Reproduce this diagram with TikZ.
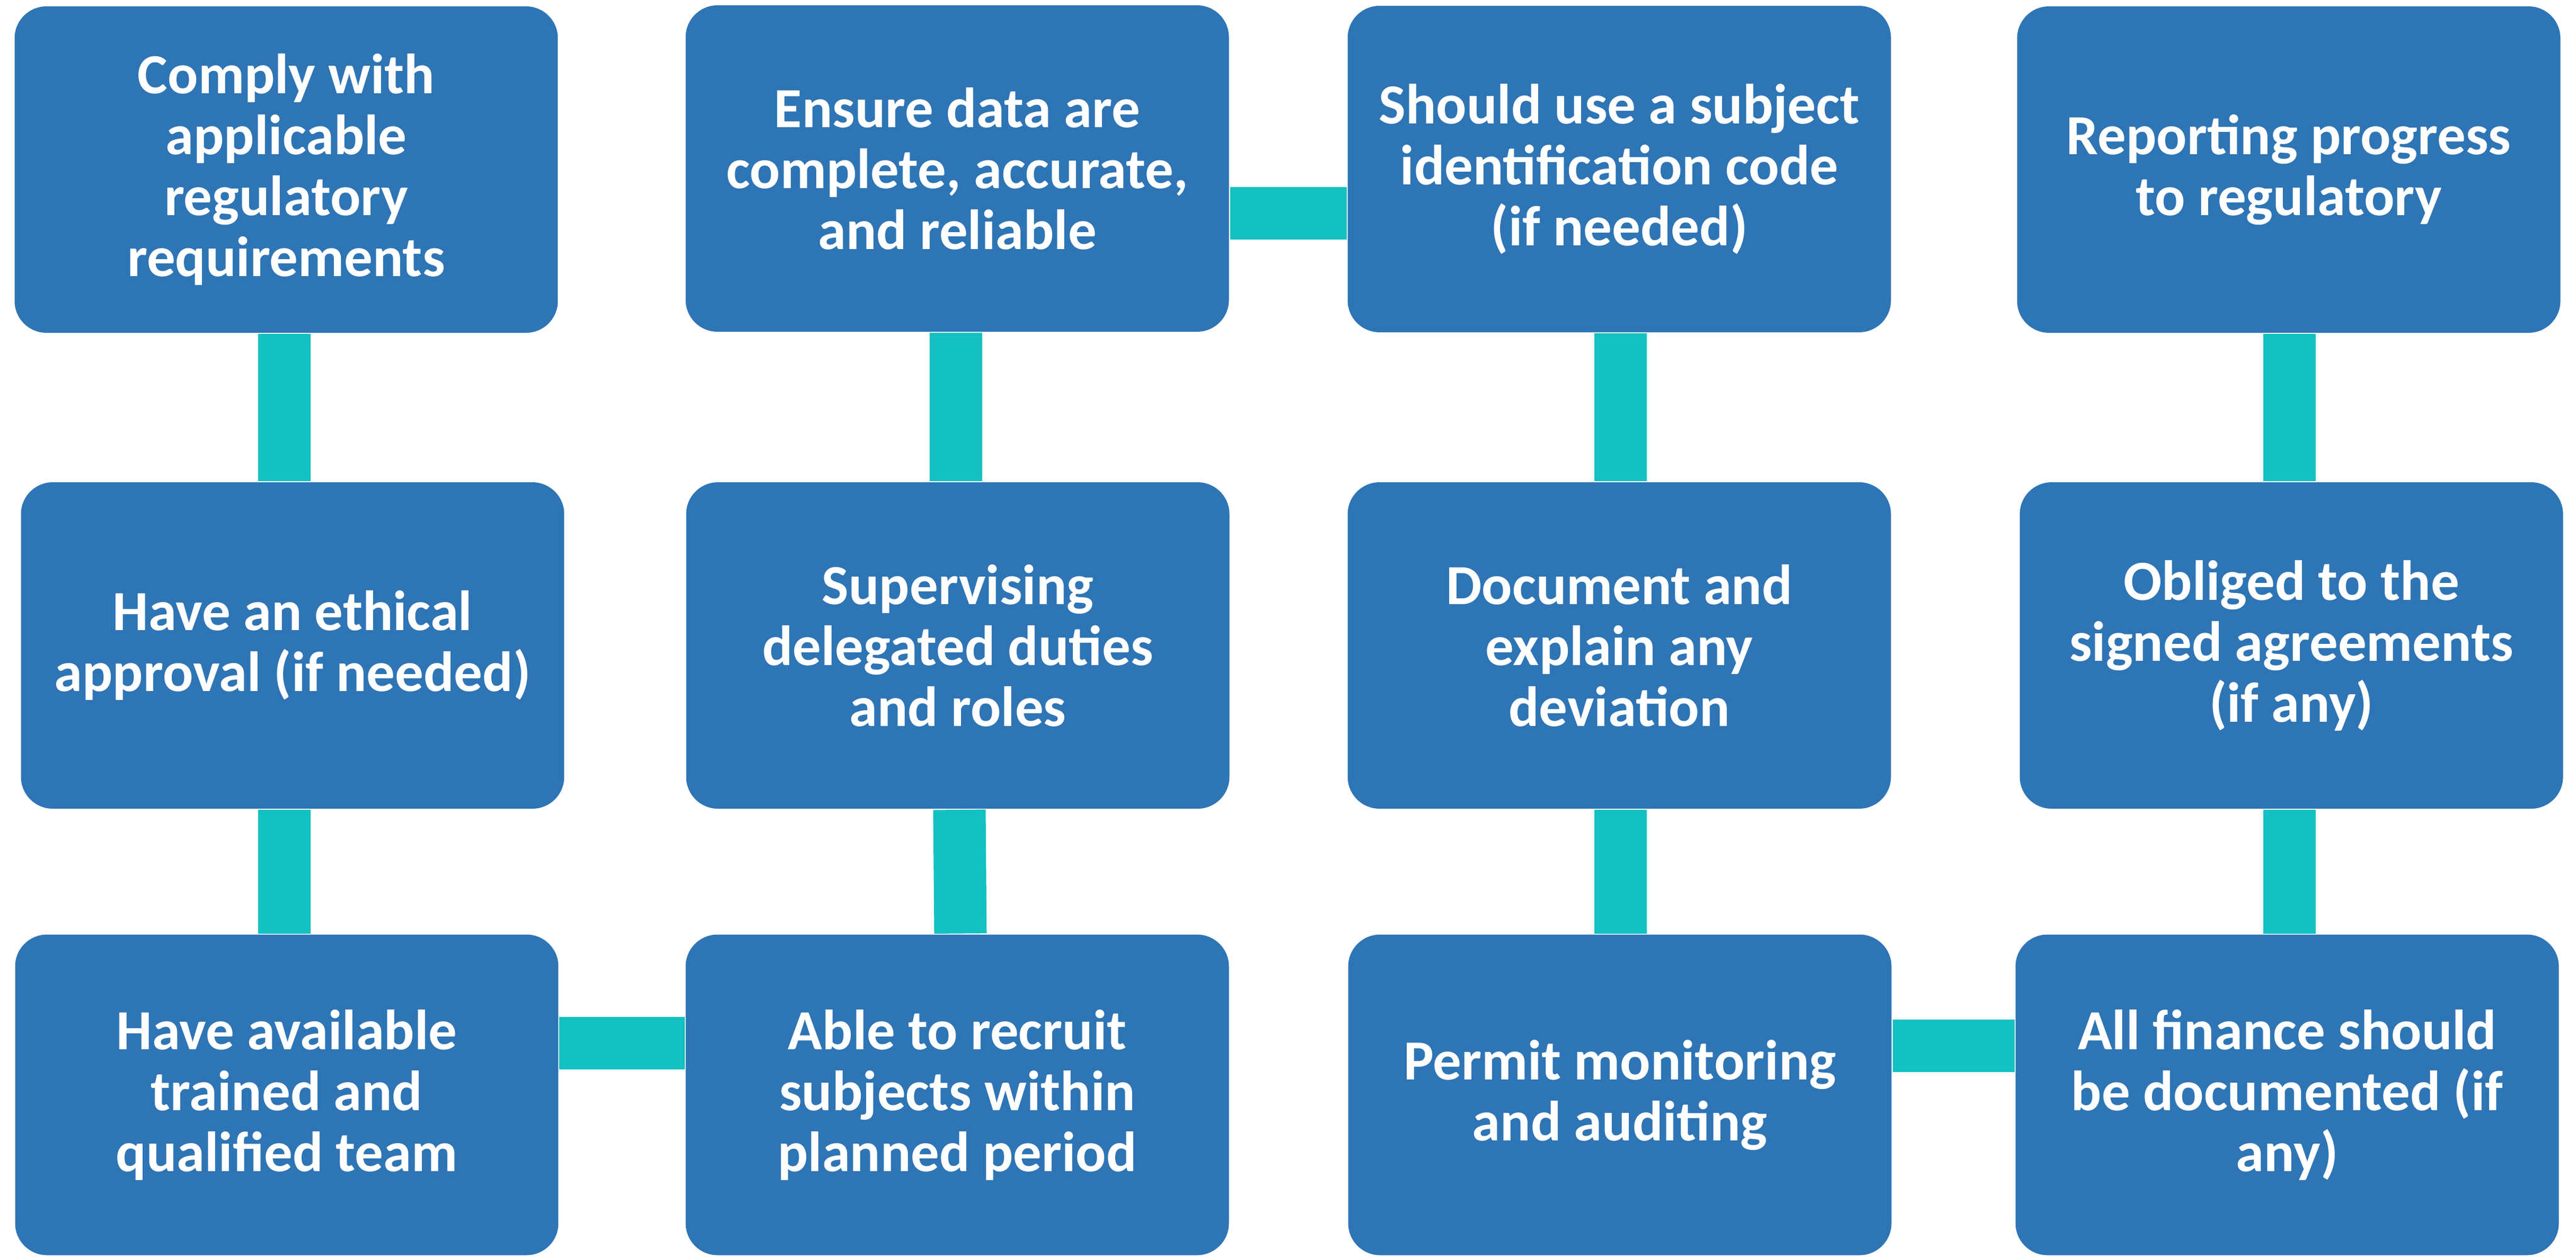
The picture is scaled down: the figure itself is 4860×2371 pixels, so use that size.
\documentclass[tikz,border=0pt]{standalone}
\usepackage{fontspec}
\setmainfont{Carlito}
\usepackage{tikz}
\definecolor{boxblue}{HTML}{2E75B6}
\definecolor{linkteal}{RGB}{19,193,193}
\tikzset{
  duty/.style={rectangle, rounded corners=6pt, fill=boxblue, text=white, align=center,
    font=\bfseries\fontsize{10.7}{11.5}\selectfont, inner sep=0pt,
    minimum width=102.5pt, minimum height=61.6pt},
  lastrow/.style={duty, minimum height=60.5pt},
  link/.style={linkteal, line width=9.9pt}
}
\begin{document}
\begin{tikzpicture}[x=0.1pt, y=-0.1pt]
\useasboundingbox (0,0) rectangle (4860,2371);
\node[duty] (comply) at (540,320) {Comply with\\applicable\\regulatory\\requirements}; % row 1
\node[duty] (data) at (1806,318) {Ensure data are\\complete, accurate,\\and reliable};
\node[duty] (code) at (3055,319) {Should use a subject\\identification code\\(if needed)};
\node[duty] (report) at (4318,320) {Reporting progress\\to regulatory};
\node[duty] (ethics) at (552,1218) {Have an ethical\\approval (if needed)}; % row 2
\node[duty] (supervise) at (1807,1218) {Supervising\\delegated duties\\and roles};
\node[duty] (deviation) at (3055,1218) {Document and\\explain any\\deviation};
\node[duty] (agreement) at (4323,1218) {Obliged to the\\signed agreements\\(if any)};
\node[lastrow] (team) at (541,2066) {Have available\\trained and\\qualified team}; % row 3
\node[lastrow] (recruit) at (1806,2066) {Able to recruit\\subjects within\\planned period};
\node[lastrow] (monitor) at (3056,2066) {Permit monitoring\\and auditing};
\node[lastrow] (finance) at (4315,2066) {All finance should\\be documented (if\\any)};
\draw[link] ([xshift=-0.4pt]comply.south) -- ([xshift=-0.4pt]comply.south |- ethics.north); % comply-ethics
\draw[link] ([xshift=-1.6pt]ethics.south) -- ([xshift=-1.6pt]ethics.south |- team.north); % ethics-team
\draw[link] ([xshift=-0.3pt]data.south) -- ([xshift=-0.3pt]data.south |- supervise.north); % data-supervise
\draw[link] ([xshift=0.3pt]supervise.south) -- ([xshift=0.5pt]supervise.south |- recruit.north); % supervise-recruit
\draw[link] ([xshift=0.2pt]code.south) -- ([xshift=0.2pt]code.south |- deviation.north); % code-deviation
\draw[link] ([xshift=0.2pt]deviation.south) -- ([xshift=0.2pt]deviation.south |- monitor.north); % deviation-monitor
\draw[link] ([xshift=0.1pt]report.south) -- ([xshift=0.1pt]report.south |- agreement.north); % report-agreement
\draw[link] ([xshift=-0.4pt]agreement.south) -- ([xshift=-0.4pt]agreement.south |- finance.north); % agreement-finance
\draw[link] ([yshift=-8.4pt]data.east) -- ([yshift=-8.4pt]data.east -| code.west); % data-code
\draw[link] ([yshift=9.8pt]team.east) -- ([yshift=9.8pt]team.east -| recruit.west); % team-recruit
\draw[link] ([yshift=9.3pt]monitor.east) -- ([yshift=9.3pt]monitor.east -| finance.west); % monitor-finance
\end{tikzpicture}
\end{document}
